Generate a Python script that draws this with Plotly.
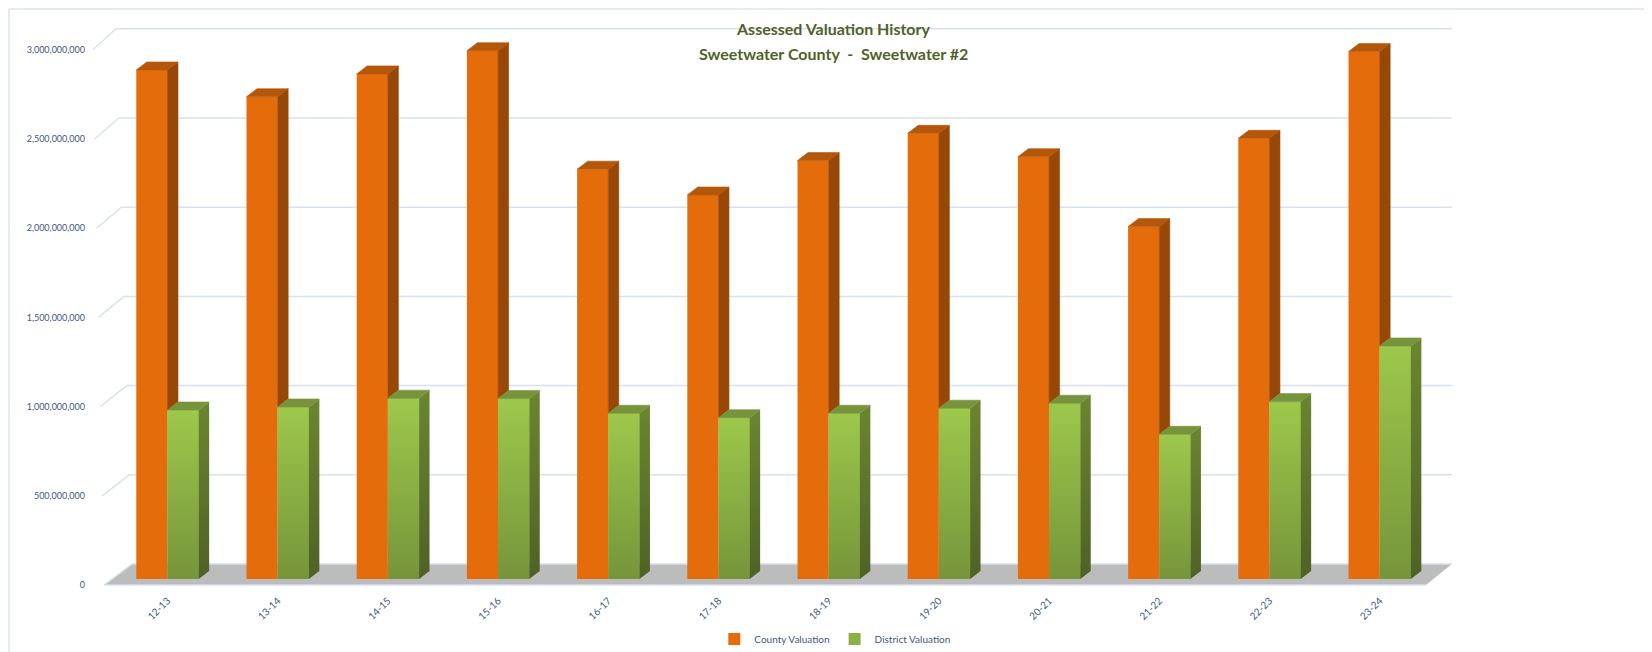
import plotly.graph_objects as go

# ---------------- data ----------------
categories = ["12-13", "13-14", "14-15", "15-16", "16-17", "17-18",
              "18-19", "19-20", "20-21", "21-22", "22-23", "23-24"]
county_valuation = [2853e6, 2703e6, 2831e6, 2961e6, 2297e6, 2152e6,
                    2345e6, 2498e6, 2367e6, 1975e6, 2470e6, 2956e6]
district_valuation = [947e6, 964e6, 1013e6, 1011e6, 929e6, 904e6,
                      929e6, 957e6, 985e6, 811e6, 994e6, 1306e6]
ytick_vals = [0, 500_000_000, 1_000_000_000, 1_500_000_000,
              2_000_000_000, 2_500_000_000, 3_000_000_000]
ytick_text = [f"{v:,}" for v in ytick_vals]
series_names = ["County Valuation", "District Valuation"]

# ---------------- style / pseudo-3D geometry ----------------
FONT = "Lato"
TXT = "#41587f"
TITLE_C = "#4F6228"
OR_FRONT, OR_SIDE, OR_TOP = "#E46C0A", "#974706", "#B4570A"
GR_TOP = "#77933C"
GRID_C = "#d7e1f0"

W = 0.283            # width of one bar front (category units)
DX = 0.095           # depth offset x (category units)
DY = 0.0448e9        # depth offset y (value units)
BASE = 0.034e9       # bars stand slightly behind front edge of floor
FLOOR_DY = 0.1177e9  # full floor depth in value units
FL_FRONT_L, FL_FRONT_R = -0.576, 11.42
FL_BACK_L, FL_BACK_R = -0.322, 11.655
YMAX_T = ytick_vals[-1]

xs = list(range(len(categories)))

fig = go.Figure()

# front faces (real bars)
fig.add_bar(x=xs, y=county_valuation, base=BASE, width=W, offset=-W,
            marker=dict(color=OR_FRONT, line=dict(width=0)),
            name=series_names[0], hoverinfo="skip")
fig.add_bar(x=xs, y=district_valuation, base=BASE, width=W, offset=0,
            marker=dict(color="#8DB045", line=dict(width=0)),
            name=series_names[1], hoverinfo="skip")


def poly_trace(px, py, color, lw=0.6):
    return go.Scatter(x=px, y=py, mode="lines", fill="toself",
                      fillcolor=color, line=dict(color=color, width=lw),
                      showlegend=False, hoverinfo="skip")


# orange side faces (visible above green) and top faces
sx, sy, tx, ty = [], [], [], []
for i, v, g in zip(xs, county_valuation, district_valuation):
    sx += [i, i + DX, i + DX, i, i, None]
    sy += [BASE + g, BASE + g + DY, BASE + v + DY, BASE + v, BASE + g, None]
    tx += [i - W, i, i + DX, i - W + DX, i - W, None]
    ty += [BASE + v, BASE + v, BASE + v + DY, BASE + v + DY, BASE + v, None]
fig.add_trace(poly_trace(sx, sy, OR_SIDE))
fig.add_trace(poly_trace(tx, ty, OR_TOP))

# green front faces with vertical gradient, side faces, top faces
gtx, gty = [], []
for i, g in zip(xs, district_valuation):
    fig.add_trace(go.Scatter(
        x=[i, i + W, i + W, i, i],
        y=[BASE, BASE, BASE + g, BASE + g, BASE],
        mode="lines", fill="toself", line=dict(width=0),
        fillgradient=dict(type="vertical", start=BASE, stop=BASE + g,
                          colorscale=[[0, "#76953A"], [1, "#9DC84B"]]),
        showlegend=False, hoverinfo="skip"))
    fig.add_trace(go.Scatter(
        x=[i + W, i + W + DX, i + W + DX, i + W, i + W],
        y=[BASE, BASE + DY, BASE + g + DY, BASE + g, BASE],
        mode="lines", fill="toself", line=dict(width=0),
        fillgradient=dict(type="vertical", start=BASE, stop=BASE + g + DY,
                          colorscale=[[0, "#4E6226"], [1, "#6A8630"]]),
        showlegend=False, hoverinfo="skip"))
    gtx += [i, i + W, i + W + DX, i + DX, i, None]
    gty += [BASE + g, BASE + g, BASE + g + DY, BASE + g + DY, BASE + g, None]
fig.add_trace(poly_trace(gtx, gty, GR_TOP))

# floor + back wall gridlines (below everything)
shapes = []
floor_path = (f"M {FL_FRONT_L},0 L {FL_FRONT_R},0 "
              f"L {FL_BACK_R},{FLOOR_DY} L {FL_BACK_L},{FLOOR_DY} Z")
shapes.append(dict(type="path", path=floor_path, xref="x", yref="y",
                   fillcolor="#bcbcbc", line=dict(width=0), layer="below"))
shapes.append(dict(type="line", xref="x", yref="y", x0=FL_FRONT_L, y0=0,
                   x1=FL_FRONT_R, y1=0, line=dict(color=GRID_C, width=1.5),
                   layer="below"))
for t in ytick_vals:
    f = t / YMAX_T
    xf = FL_FRONT_L - 0.10 * f
    xb = FL_BACK_L - 0.145 * f
    shapes.append(dict(type="line", xref="x", yref="y", x0=xb, y0=t + FLOOR_DY,
                       x1=FL_BACK_R, y1=t + FLOOR_DY,
                       line=dict(color=GRID_C, width=1.5), layer="below"))
    shapes.append(dict(type="line", xref="x", yref="y", x0=xf, y0=t,
                       x1=xb, y1=t + FLOOR_DY,
                       line=dict(color=GRID_C, width=1.5), layer="below"))
# chart border (top and left)
shapes.append(dict(type="line", xref="paper", yref="paper", x0=-0.0607, y0=1.0192,
                   x1=1.15, y1=1.0192, line=dict(color="#dce5f2", width=1.5)))
shapes.append(dict(type="line", xref="paper", yref="paper", x0=-0.0607, y0=1.0192,
                   x1=-0.0607, y1=-0.12, line=dict(color="#dce5f2", width=1.5)))

annotations = [
    dict(text="<b>Assessed Valuation History</b>", xref="paper", yref="paper",
         x=0.5417, y=0.986, xanchor="center", yanchor="middle", showarrow=False,
         font=dict(family=FONT, size=16, color=TITLE_C)),
    dict(text="<b>Sweetwater County  -  Sweetwater #2</b>", xref="paper",
         yref="paper", x=0.5417, y=0.942, xanchor="center", yanchor="middle",
         showarrow=False, font=dict(family=FONT, size=16, color=TITLE_C)),
]

fig.update_layout(
    width=1644, height=644,
    margin=dict(l=84, r=192, t=12, b=60),
    paper_bgcolor="white", plot_bgcolor="white",
    barmode="overlay",
    shapes=shapes, annotations=annotations,
    showlegend=True,
    legend=dict(orientation="h", xref="paper", x=0.543, xanchor="center",
                yref="container", y=0.0202, yanchor="middle",
                font=dict(family=FONT, size=10, color=TXT),
                itemwidth=30, bgcolor="rgba(0,0,0,0)"),
    font=dict(family=FONT, color=TXT),
)
fig.update_xaxes(range=[-0.6851, 11.7287], tickvals=xs, ticktext=categories,
                 tickangle=-45, showgrid=False, zeroline=False, showline=False,
                 ticks="", automargin=False,
                 tickfont=dict(family=FONT, size=10, color=TXT))
fig.update_yaxes(range=[-0.0392e9, 3.1671e9], tickvals=ytick_vals,
                 ticktext=ytick_text, showgrid=False, zeroline=False,
                 showline=False, ticks="", automargin=False,
                 ticklabelstandoff=6,
                 tickfont=dict(family=FONT, size=9, color=TXT))

fig.write_html("out.html")
